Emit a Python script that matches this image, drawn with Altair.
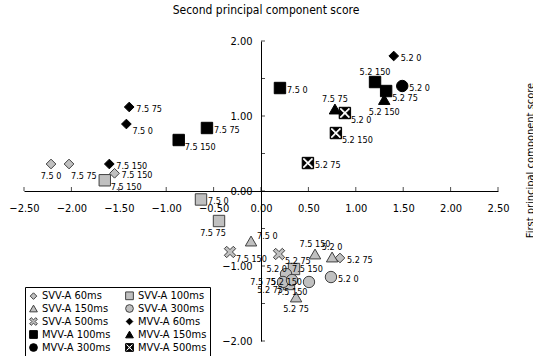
import altair as alt
import pandas as pd

FONT = "Liberation Sans Narrow, DejaVu Sans Condensed, sans-serif"

series_names = ["SVV-A 60ms", "SVV-A 100ms", "SVV-A 150ms", "SVV-A 300ms", "SVV-A 500ms",
                "MVV-A 60ms", "MVV-A 100ms", "MVV-A 150ms", "MVV-A 300ms", "MVV-A 500ms"]

pt_series = (["SVV-A 60ms"] * 4 + ["SVV-A 100ms"] * 5 + ["SVV-A 150ms"] * 4 +
             ["SVV-A 300ms"] * 5 + ["SVV-A 500ms"] * 2 + ["MVV-A 60ms"] * 4 +
             ["MVV-A 100ms"] * 5 + ["MVV-A 150ms"] * 2 + ["MVV-A 300ms"] * 1 +
             ["MVV-A 500ms"] * 3)
pt_x = [-2.215, -2.025, -1.545, 0.833,
        -1.648, -0.633, -0.443, 0.348, 0.295,
        -0.105, 0.57, 0.75, 0.37,
        0.264, 0.232, 0.327, 0.506, 0.738,
        -0.327, 0.19,
        -1.39, -1.42, -1.60, 1.40,
        -0.868, -0.57, 0.20, 1.203, 1.32,
        0.78, 1.30,
        1.49,
        0.885, 0.79, 0.495]
pt_y = [0.36, 0.36, 0.236, -0.893,
        0.143, -0.113, -0.40, -1.04, -1.24,
        -0.667, -0.84, -0.88, -1.413,
        -1.107, -1.213, -1.187, -1.213, -1.147,
        -0.813, -0.84,
        1.12, 0.893, 0.36, 1.80,
        0.68, 0.84, 1.373, 1.453, 1.333,
        1.093, 1.22,
        1.40,
        1.04, 0.773, 0.373]
pt_label = ["7.5 0", "7.5 75", "7.5 150", "5.2 75",
            "7.5 150", "7.5 0", "7.5 75", "5.2 0", "5.2 75",
            "7.5 0", "7.5 150", "5.2 0", "5.2 75",
            "7.5 150", "7.5 75", "7.5 150", "5.2 150", "5.2 0",
            "7.5 150", "5.2 75",
            "7.5 75", "7.5 0", "7.5 150", "5.2 0",
            "7.5 150", "7.5 75", "7.5 0", "5.2 150", "5.2 75",
            "7.5 75", "5.2 150",
            "5.2 0",
            "5.2 0", "5.2 150", "5.2 75"]
label_side = ["b", "br", "r", "r",
              "rb", "r", "bl", "l", "lb",
              "rt", "t", "t", "b",
              "rt", "l", "b", "l", "r",
              "rb", "rb",
              "r", "rb", "r", "r",
              "rb", "r", "r", "t", "rb",
              "t", "b",
              "r",
              "rb", "rb", "r"]

x_ticks = [-2.5, -2.0, -1.5, -1.0, -0.5, 0.0, 0.5, 1.0, 1.5, 2.0, 2.5]
y_ticks = [-2.0, -1.5, -1.0, -0.5, 0.0, 0.5, 1.0, 1.5, 2.0]

df = pd.DataFrame({"series": pt_series, "x": pt_x, "y": pt_y,
                   "label": pt_label, "side": label_side})
df["idx"] = range(len(df))
xt = pd.DataFrame({"v": x_ticks})
yt = pd.DataFrame({"v": y_ticks})

# symbol shapes
a = 0.42
x_poly = [(-1, -1 + a), (-1 + a, -1), (0, -a), (1 - a, -1), (1, -1 + a), (a, 0),
          (1, 1 - a), (1 - a, 1), (0, a), (-1 + a, 1), (-1, 1 - a), (-a, 0)]
def poly(pts):
    return "M" + "L".join(f"{px:g},{py:g}" for px, py in pts) + "Z"
X_PATH = poly(x_poly)
b = 0.3
hole = [(-1, -1 + b), (-1 + b, -1), (0, -b), (1 - b, -1), (1, -1 + b), (b, 0),
        (1, 1 - b), (1 - b, 1), (0, b), (-1 + b, 1), (-1, 1 - b), (-b, 0)]
BOXX_PATH = "M-1,-1L1,-1L1,1L-1,1Z" + poly(list(reversed(hole)))
DIAMOND = "M0,-0.85L0.85,0L0,0.85L-0.85,0Z"

shape_range = [DIAMOND, "square", "triangle-up", "circle", X_PATH,
               DIAMOND, "square", "triangle-up", "circle", BOXX_PATH]
GRAY = "#c0c0c0"
DARK = "#404040"
fill_range = [GRAY] * 5 + ["black"] * 5
stroke_range = [DARK] * 5 + ["black"] * 5

xscale = alt.Scale(domain=[-2.5, 2.5], nice=False, zero=False)
yscale = alt.Scale(domain=[-2.0, 2.0], nice=False, zero=False)

W, H = 474, 300

legend = alt.Legend(title=None, orient="none", legendX=1, legendY=246, columns=2,
                    direction="horizontal",
                    symbolSize=60, symbolStrokeWidth=1, labelFontSize=11, labelFont=FONT,
                    labelColor="black", strokeColor="black", fillColor="white",
                    padding=3, rowPadding=0, columnPadding=12, labelLimit=0,
                    labelOffset=3, cornerRadius=0, symbolOpacity=1)

base = alt.Chart(df)

points = base.mark_point(filled=True, size=130, opacity=1, strokeWidth=1).encode(
    x=alt.X("x:Q", scale=xscale,
            axis=alt.Axis(title=None, values=x_ticks, format=".2f", offset=-H / 2,
                          orient="bottom", ticks=False, tickSize=0, labelPadding=11,
                          labelFlush=False, labelOverlap=False, grid=False,
                          domainColor="black", labelFont=FONT, labelFontSize=11,
                          labelColor="black")),
    y=alt.Y("y:Q", scale=yscale,
            axis=alt.Axis(values=y_ticks, format=".2f", offset=-237,
                          orient="left", ticks=False, tickSize=0, labelPadding=9,
                          labelFlush=False, labelOverlap=False, grid=False,
                          domainColor="black", labelFont=FONT, labelFontSize=11,
                          labelColor="black",
                          title="First principal component score",
                          titleAngle=270, titleX=272, titleY=119,
                          titleAlign="center", titleBaseline="alphabetic",
                          titleFont=FONT, titleFontSize=11, titleFontWeight="normal",
                          titleColor="black")),
    shape=alt.Shape("series:N", scale=alt.Scale(domain=series_names, range=shape_range),
                    legend=legend),
    fill=alt.Fill("series:N", scale=alt.Scale(domain=series_names, range=fill_range),
                  legend=legend),
    stroke=alt.Stroke("series:N", scale=alt.Scale(domain=series_names, range=stroke_range),
                      legend=legend),
    order=alt.Order("idx:Q"),
)

modes = {
    "r": ("left", 7, 2),
    "rb": ("left", 6, 7),
    "rt": ("left", 6, -5),
    "br": ("left", 2, 12),
    "b": ("center", 0, 12),
    "bl": ("center", -6, 12),
    "t": ("center", 0, -10),
    "l": ("right", -7, 0),
    "lb": ("right", -6, 6),
}
text_layers = []
for m, (al, ddx, ddy) in modes.items():
    text_layers.append(
        base.transform_filter(alt.datum.side == m).mark_text(
            align=al, baseline="middle", dx=ddx, dy=ddy, fontSize=9, font=FONT,
            color="black").encode(x="x:Q", y="y:Q", text="label:N"))

xtick_layer = alt.Chart(xt).mark_tick(orient="vertical", size=4, thickness=1,
                                      color="black", yOffset=-2).encode(
    x=alt.X("v:Q"), y=alt.datum(0))
ytick_layer = alt.Chart(yt).mark_tick(orient="horizontal", size=4, thickness=1,
                                      color="black", xOffset=2).encode(
    y=alt.Y("v:Q"), x=alt.datum(0))

chart = alt.layer(points, *text_layers, xtick_layer, ytick_layer).properties(
    width=W, height=H,
    background="white",
    title=alt.Title(text="Second principal component score", fontSize=12, font=FONT,
                    fontWeight="normal", anchor="middle", frame="group", offset=18,
                    dx=5, color="black"),
    autosize=alt.AutoSizeParams(type="none"),
    padding={"left": 24, "top": 41, "right": 35, "bottom": 15},
).configure_view(stroke=None)

chart.save("out.html", embed_options={"renderer": "svg", "actions": False})
